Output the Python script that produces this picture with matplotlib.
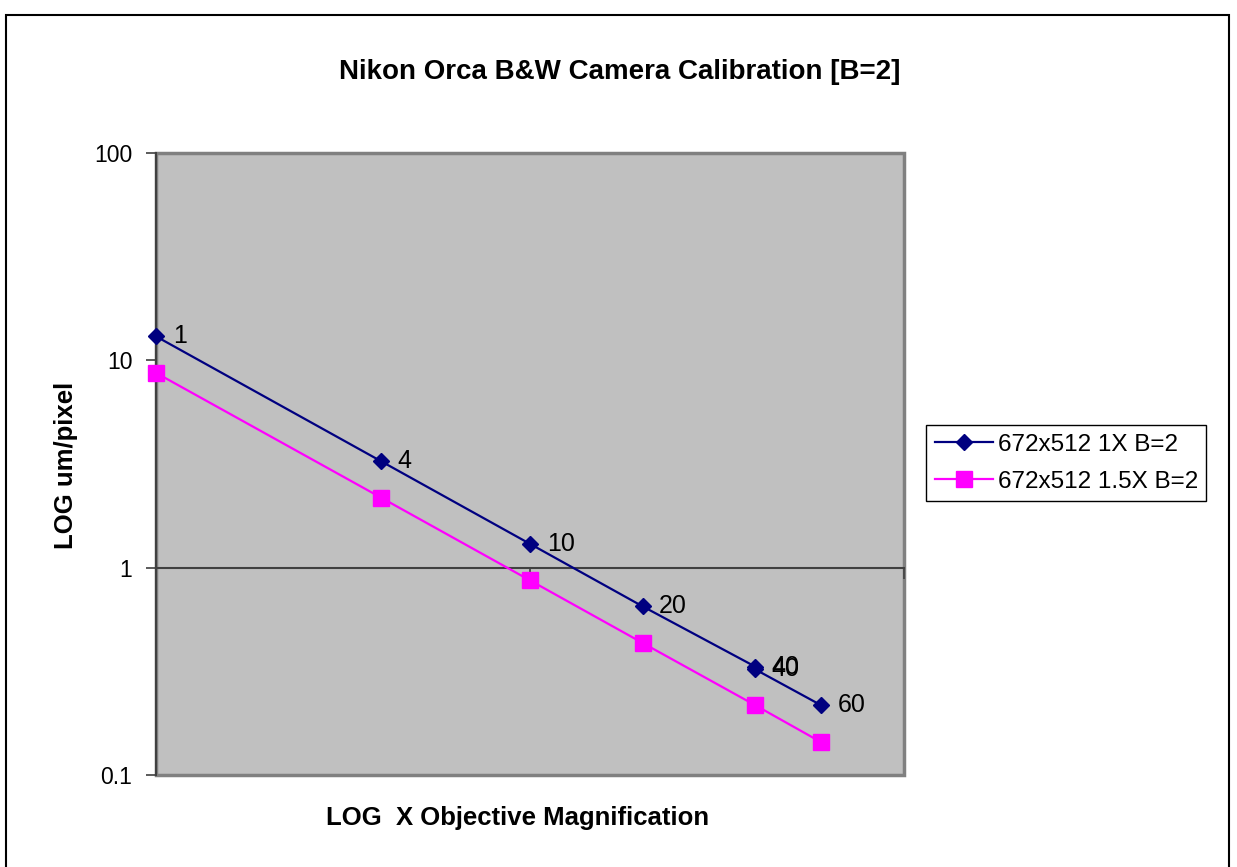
import matplotlib.pyplot as plt
from matplotlib.patches import Rectangle
from matplotlib.ticker import FixedLocator, NullLocator, FuncFormatter

# Data (um/pixel vs objective magnification)
mag_1x = [1, 4, 10, 20, 40, 40, 60]
um_1x = [13.0, 3.25, 1.30, 0.65, 0.333, 0.323, 0.217]
mag_15x = [1, 4, 10, 20, 40, 60]
um_15x = [8.67, 2.17, 0.867, 0.433, 0.217, 0.144]
y_ticks = [0.1, 1, 10, 100]
x_ticks = [1, 10, 100]

plt.rcParams['font.family'] = ['Liberation Sans', 'DejaVu Sans']

fig = plt.figure(figsize=(12.37, 8.67), dpi=100)
ax = fig.add_axes([0.1261, 0.1061, 0.6047, 0.7180])
ax.set_facecolor('#C0C0C0')

ax.set_xscale('log')
ax.set_yscale('log')
ax.set_xlim(1, 100)
ax.set_ylim(0.1, 100)

ax.plot(mag_1x, um_1x, color='#000080', lw=1.6, marker='D', ms=8,
        label='672x512 1X B=2', zorder=4, clip_on=False)
ax.plot(mag_15x, um_15x, color='#FF00FF', lw=1.6, marker='s', ms=11,
        label='672x512 1.5X B=2', zorder=3, clip_on=False)

# data labels on the 1X series
for x, y in zip(mag_1x, um_1x):
    ax.annotate(f'{x}', (x, y), xytext=(12, 0), textcoords='offset points',
                ha='left', va='center', fontsize=18)

# plot area border
ax.add_patch(Rectangle((0, 0), 1, 1, transform=ax.transAxes, fill=False,
                       edgecolor='#808080', lw=2.5, clip_on=False, zorder=1))
ax.spines['top'].set_visible(False)
ax.spines['right'].set_visible(False)
ax.spines['left'].set_color('#404040')
ax.spines['left'].set_linewidth(1.5)
ax.spines['bottom'].set_position(('data', 1))
ax.spines['bottom'].set_color('#404040')
ax.spines['bottom'].set_linewidth(1.5)

ax.xaxis.set_major_locator(FixedLocator(x_ticks))
ax.xaxis.set_minor_locator(NullLocator())
ax.yaxis.set_major_locator(FixedLocator(y_ticks))
ax.yaxis.set_minor_locator(NullLocator())
ax.yaxis.set_major_formatter(FuncFormatter(lambda v, p: f'{v:g}'))
ax.tick_params(axis='x', direction='out', length=8, width=1.2, color='#404040',
               labelbottom=False)
ax.tick_params(axis='y', direction='out', length=7, width=1.2, color='#404040',
               labelsize=16.5, pad=10)

fig.text(0.5008, 0.917, 'Nikon Orca B&W Camera Calibration [B=2]',
         ha='center', va='center', fontsize=20, fontweight='bold')
fig.text(0.418, 0.0565, 'LOG  X Objective Magnification',
         ha='center', va='center', fontsize=18.5, fontweight='bold')
fig.text(0.053, 0.4637, 'LOG um/pixel', rotation=90,
         ha='center', va='center', fontsize=18.5, fontweight='bold')

leg = ax.legend(loc='lower left', bbox_to_anchor=(0.7486, 0.4221),
                bbox_transform=fig.transFigure, borderaxespad=0,
                fontsize=17.5, fancybox=False, framealpha=1, edgecolor='black',
                handlelength=2.4, handletextpad=0.2, labelspacing=0.6,
                borderpad=0.35)
leg.get_frame().set_linewidth(1.0)

# outer chart border
fig.add_artist(Rectangle((6 / 1237, -0.01), 1223 / 1237, 1.01 - 15 / 867,
                         transform=fig.transFigure, fill=False,
                         edgecolor='black', lw=1.5))

fig.savefig('out.png', dpi=100, facecolor='white')
